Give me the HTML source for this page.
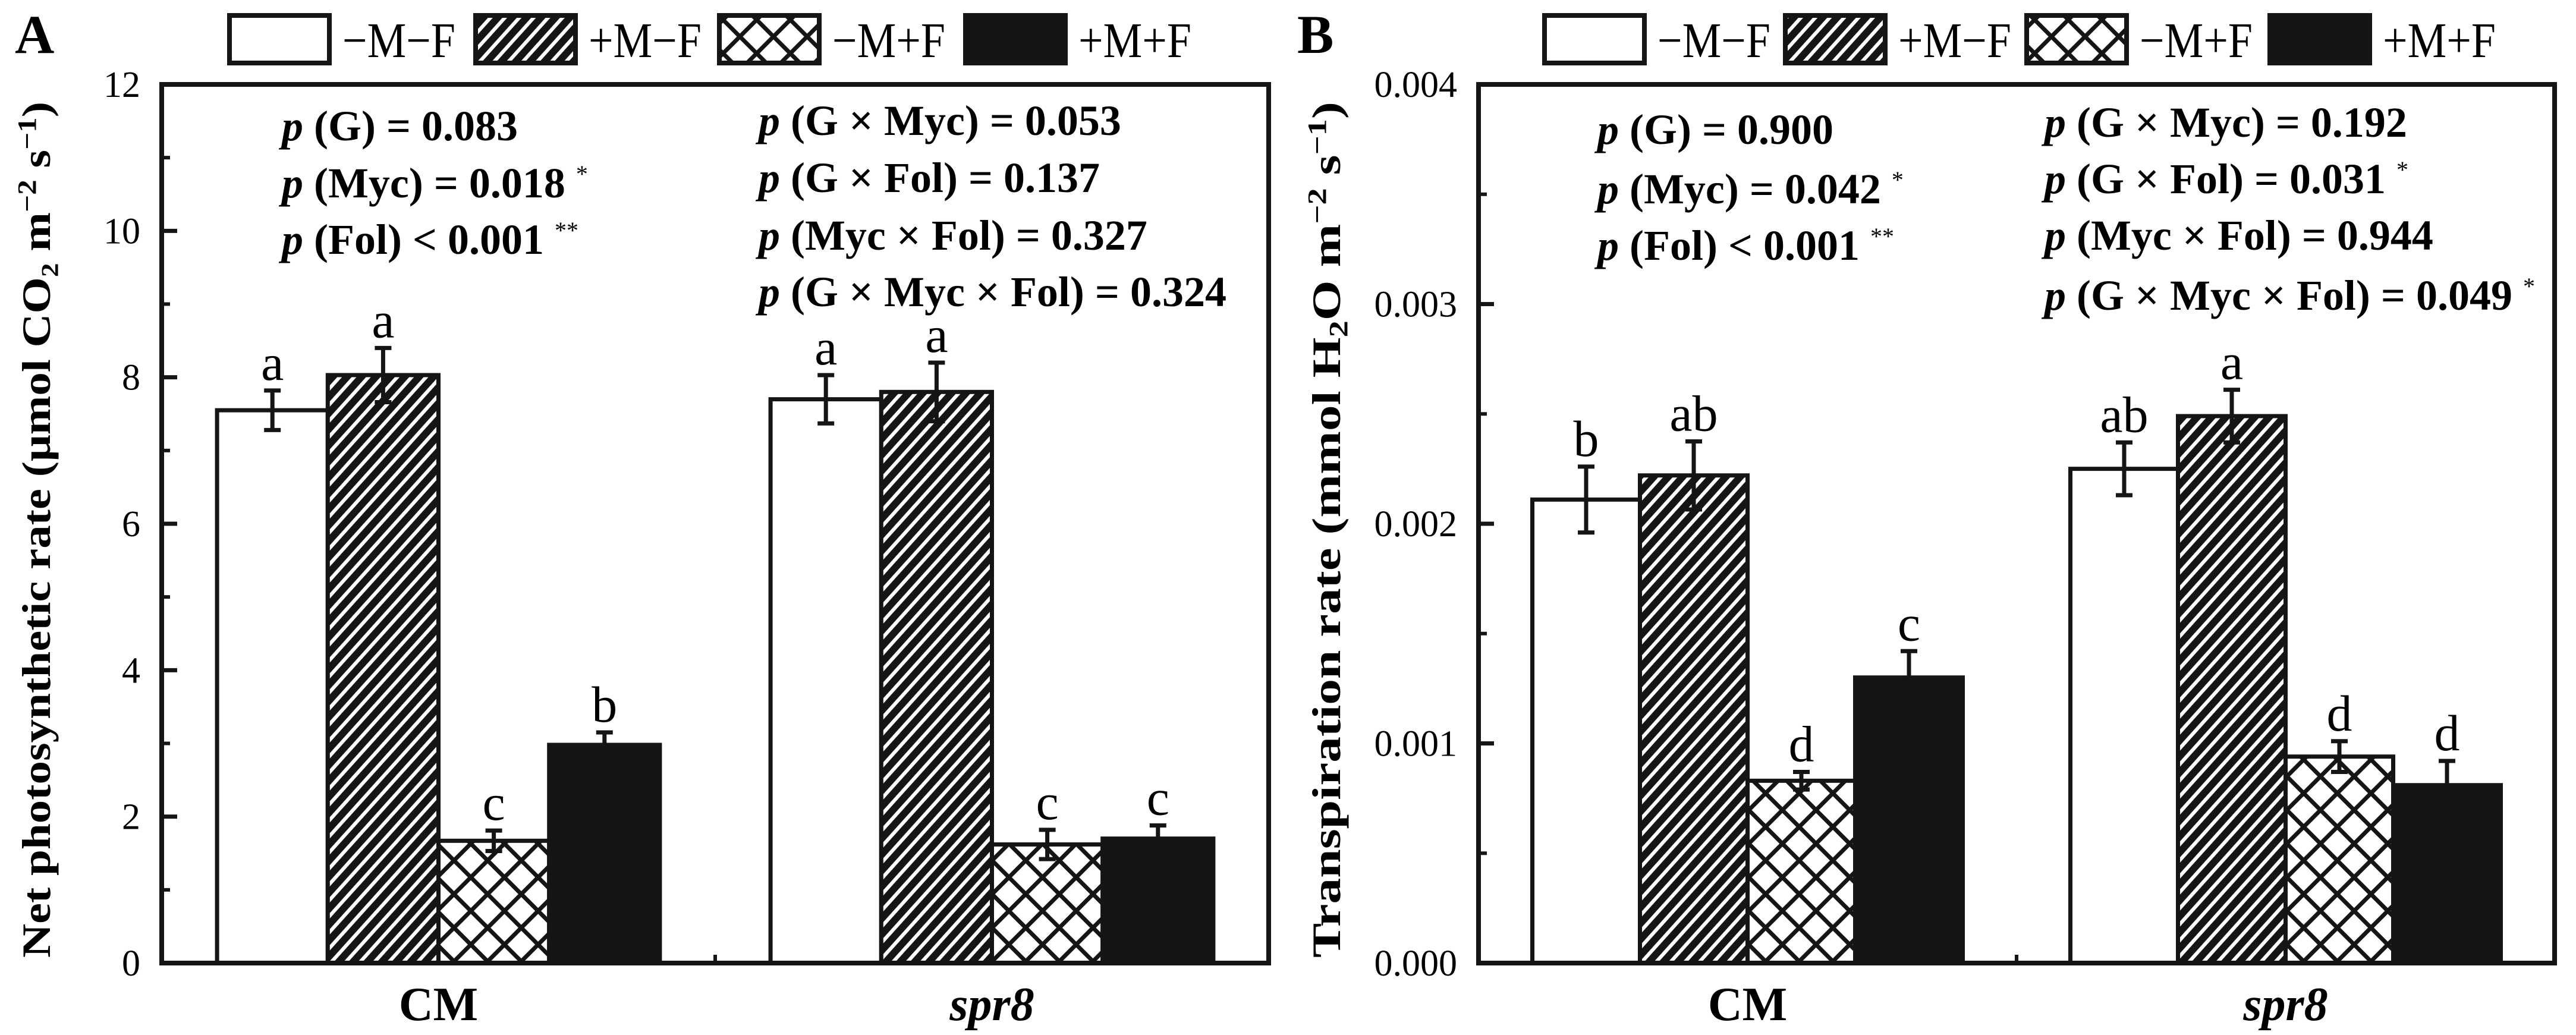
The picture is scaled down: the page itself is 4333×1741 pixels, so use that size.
<!DOCTYPE html>
<html><head><meta charset="utf-8"><style>
html,body{margin:0;padding:0;background:#fff;}
svg{display:block;font-family:"Liberation Serif",serif;}
</style></head><body>
<svg id="fig" width="4333" height="1741" viewBox="0 0 4333 1741" xmlns="http://www.w3.org/2000/svg">
<defs>
<pattern id="hatch" patternUnits="userSpaceOnUse" width="18" height="18" patternTransform="rotate(-48)">
<rect width="18" height="18" fill="#151515"/><rect y="0" width="18" height="6" fill="#fff"/>
</pattern>
<pattern id="cross" patternUnits="userSpaceOnUse" width="40" height="40" patternTransform="rotate(45)">
<rect width="40" height="40" fill="#fff"/><rect x="0" y="0" width="40" height="7" fill="#151515"/><rect x="0" y="0" width="7" height="40" fill="#151515"/>
</pattern>
</defs>
<g id="panels"></g>
</svg>
<script>
const groups = ["CM", "spr8"];
const seriesNames = ["\u2212M\u2212F", "+M\u2212F", "\u2212M+F", "+M+F"];
const photoValues = [[7.55, 8.03, 1.67, 2.98], [7.70, 7.80, 1.62, 1.70]];
const photoErrors = [[0.27, 0.37, 0.14, 0.17], [0.33, 0.40, 0.20, 0.18]];
const photoLetters = [["a", "a", "c", "b"], ["a", "a", "c", "c"]];
const photoTicks = [0, 2, 4, 6, 8, 10, 12];
const photoTickLabels = ["0", "2", "4", "6", "8", "10", "12"];
const transValues = [[0.00211, 0.00222, 0.00083, 0.00130], [0.00225, 0.00249, 0.00094, 0.00081]];
const transErrors = [[0.00015, 0.000155, 0.00004, 0.00012], [0.00012, 0.00012, 0.00007, 0.00011]];
const transLetters = [["b", "ab", "d", "c"], ["ab", "a", "d", "d"]];
const transTicks = [0, 0.001, 0.002, 0.003, 0.004];
const transTickLabels = ["0.000", "0.001", "0.002", "0.003", "0.004"];

const NS = "http://www.w3.org/2000/svg";
const root = document.getElementById("panels");
const fills = ["#fff", "url(#hatch)", "url(#cross)", "#151515"];
function el(tag, attrs, parent, text) {
  const e = document.createElementNS(NS, tag);
  for (const k in attrs) e.setAttribute(k, attrs[k]);
  if (text !== undefined) e.textContent = text;
  (parent || root).appendChild(e);
  return e;
}
function panel(cfg) {
  const g = el("g", {});
  
  
  const L = cfg.left, R = cfg.right, T = 142, B = 1620;
  const yMax = cfg.ticks[cfg.ticks.length - 1];
  const y = v => B - (v / yMax) * (B - T);
  const span = R - L;
  const bw = span * 0.1;
  const gx = i => L + span * (0.25 + 0.5 * i);
  const pl = el("text", {x: cfg.letterX, y: 89, "font-size": 92, "font-weight": "bold"}, g, cfg.letter);
  
  
  for (let s = 0; s < 4; s++) {
    const lx = cfg.legendX[s];
    const lg = el("g", {}, g);
    
    
    el("rect", {x: lx, y: 26, width: 168, height: 80, fill: fills[s], stroke: "#151515", "stroke-width": 8}, lg);
    el("text", {x: lx + 190, y: 96, "font-size": 84, textLength: 190, lengthAdjust: "spacingAndGlyphs"}, lg, seriesNames[s]);
  }
  for (let gi = 0; gi < 2; gi++) {
    for (let s = 0; s < 4; s++) {
      const v = cfg.values[gi][s], e = cfg.errors[gi][s];
      const x0 = gx(gi) - 2 * bw + s * bw;
      const bar = el("rect", {x: x0, y: y(v), width: bw, height: B - y(v), fill: fills[s], stroke: "#151515", "stroke-width": 7}, g);
      
      
      const cx = x0 + bw / 2;
      const eb = el("path", {d: `M${cx} ${y(v + e)}V${y(v - e)}M${cx - 14} ${y(v + e)}H${cx + 14}M${cx - 14} ${y(v - e)}H${cx + 14}`, stroke: "#151515", "stroke-width": 7, fill: "none"}, g);
      
      
      const lt = el("text", {x: cx, y: y(v + e) - 18, "font-size": 86, "text-anchor": "middle"}, g, cfg.letters[gi][s]);
      
      
    }
    const xl = el("text", {x: gx(gi), y: 1716, "font-size": 80, "font-weight": "bold", "text-anchor": "middle", "font-style": gi ? "italic" : "normal"}, g, groups[gi]);
    
    
  }
  const fr = el("rect", {x: L, y: T, width: span, height: B - T, fill: "none", stroke: "#151515", "stroke-width": 8}, g);
  
  
  el("line", {x1: (L + R) / 2, x2: (L + R) / 2, y1: B, y2: B - 14, stroke: "#151515", "stroke-width": 6}, g);
  for (let i = 0; i < cfg.ticks.length; i++) {
    const t = cfg.ticks[i];
    el("line", {x1: L, x2: L + 26, y1: y(t), y2: y(t), stroke: "#151515", "stroke-width": 7}, g);
    if (i < cfg.ticks.length - 1) {
      const m = (t + cfg.ticks[i + 1]) / 2;
      el("line", {x1: L, x2: L + 14, y1: y(m), y2: y(m), stroke: "#151515", "stroke-width": 6}, g);
    }
    const tl = el("text", {x: L - 36, y: y(t) + 21, "font-size": 62, "text-anchor": "end"}, g, cfg.tickLabels[i]);
    
    
  }
  const yt = el("text", {x: 0, y: 0, "font-size": 68, "font-weight": "bold", "text-anchor": "middle", transform: `translate(${cfg.titleX},${(T + B) / 2 + 10}) rotate(-90)`, textLength: cfg.titleLen, lengthAdjust: "spacingAndGlyphs"}, g);
  
  
  yt.innerHTML = cfg.title;
  const st = el("g", {"font-size": 72, "font-weight": "bold"}, g);
  
  
  cfg.stats.forEach(s => {
    const t = el("text", {x: s[0], y: s[1]}, st);
    t.innerHTML = s[2];
  });
}
const P = '<tspan font-style="italic">p</tspan>';
const SUP = s => `<tspan font-size="40" dy="-26" font-weight="normal">${s}</tspan>`;
panel({name: "panel-a-photosynthesis", letter: "A", letterX: 25, left: 272, right: 2134,
  legendX: [386, 800, 1210, 1624], ticks: photoTicks, tickLabels: photoTickLabels,
  values: photoValues, errors: photoErrors, letters: photoLetters, titleX: 84, titleLen: 1440,
  title: 'Net photosynthetic rate (\u03bcmol CO\u2082 m<tspan font-size="44" dy="-24">\u22122</tspan><tspan dy="24"> s</tspan><tspan font-size="44" dy="-24">\u22121</tspan><tspan dy="24">)</tspan>',
  stats: [[474, 236, P + ' (G) = 0.083'], [474, 332, P + ' (Myc) = 0.018 ' + SUP('*')], [474, 427, P + ' (Fol) &lt; 0.001 ' + SUP('**')],
    [1276, 227, P + ' (G \u00d7 Myc) = 0.053'], [1276, 323, P + ' (G \u00d7 Fol) = 0.137'], [1276, 420, P + ' (Myc \u00d7 Fol) = 0.327'], [1276, 515, P + ' (G \u00d7 Myc \u00d7 Fol) = 0.324']]
});
panel({name: "panel-b-transpiration", letter: "B", letterX: 2182, left: 2487, right: 4297,
  legendX: [2598, 3003, 3409, 3818], ticks: transTicks, tickLabels: transTickLabels,
  values: transValues, errors: transErrors, letters: transLetters, titleX: 2254, titleLen: 1440,
  title: 'Transpiration rate (mmol H<tspan font-size="44" dy="12">2</tspan><tspan dy="-12">O m</tspan><tspan font-size="44" dy="-24">\u22122</tspan><tspan dy="24"> s</tspan><tspan font-size="44" dy="-24">\u22121</tspan><tspan dy="24">)</tspan>',
  stats: [[2687, 242, P + ' (G) = 0.900'], [2687, 342, P + ' (Myc) = 0.042 ' + SUP('*')], [2687, 437, P + ' (Fol) &lt; 0.001 ' + SUP('**')],
    [3439, 230, P + ' (G \u00d7 Myc) = 0.192'], [3439, 325, P + ' (G \u00d7 Fol) = 0.031 ' + SUP('*')], [3439, 420, P + ' (Myc \u00d7 Fol) = 0.944'], [3439, 521, P + ' (G \u00d7 Myc \u00d7 Fol) = 0.049 ' + SUP('*')]]
});
</script>
</body></html>
